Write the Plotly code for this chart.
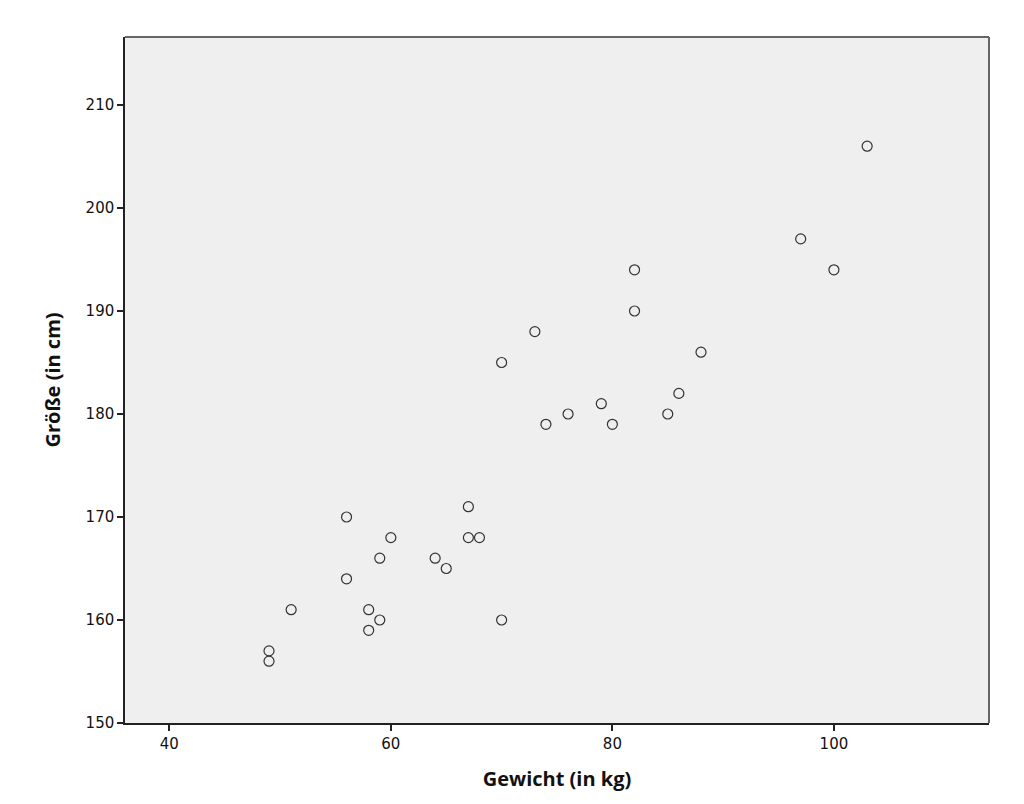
import plotly.graph_objects as go

gewicht = [49, 49, 51, 56, 56, 58, 58, 59, 59, 60, 64, 65, 67, 67, 68, 70, 70,
           73, 74, 76, 79, 80, 82, 82, 85, 86, 88, 97, 100, 103]
groesse = [157, 156, 161, 170, 164, 161, 159, 166, 160, 168, 166, 165, 171, 168, 168, 185, 160,
           188, 179, 180, 181, 179, 194, 190, 180, 182, 186, 197, 194, 206]
x_ticks = [40, 60, 80, 100]
y_ticks = [150, 160, 170, 180, 190, 200, 210]

fig = go.Figure()
fig.add_trace(go.Scatter(
    x=gewicht, y=groesse, mode="markers",
    marker=dict(symbol="circle-open", size=10, color="#333333", line=dict(width=1.2, color="#333333")),
    showlegend=False, hoverinfo="x+y",
))

axis_font = dict(family="DejaVu Sans, sans-serif", size=15, color="#111111")
title_font = dict(family="Open Sans, DejaVu Sans, sans-serif", size=20, color="#111111")

fig.update_layout(
    width=1024, height=804,
    margin=dict(l=125, r=35, t=37, b=81),
    paper_bgcolor="white",
    plot_bgcolor="#efefef",
    xaxis=dict(
        range=[36, 114], tickvals=x_ticks, ticks="outside", ticklen=6, tickwidth=1.5,
        tickcolor="#222222", showgrid=False, zeroline=False,
        showline=True, linecolor="#222222", linewidth=1.5, mirror=False,
        tickfont=axis_font,
        title=dict(text="<b>Gewicht (in kg)</b>", font=title_font, standoff=20),
    ),
    yaxis=dict(
        range=[150, 216.6], tickvals=y_ticks, ticks="outside", ticklen=6, tickwidth=1.5,
        tickcolor="#222222", showgrid=False, zeroline=False,
        showline=True, linecolor="#222222", linewidth=1.5, mirror=False,
        tickfont=axis_font,
        title=dict(text="<b>Größe (in cm)</b>", font=title_font, standoff=20),
    ),
    shapes=[
        dict(type="line", xref="paper", yref="paper", x0=0, x1=1, y0=1, y1=1,
             line=dict(color="#666666", width=2)),
        dict(type="line", xref="paper", yref="paper", x0=1, x1=1, y0=0, y1=1,
             line=dict(color="#666666", width=2)),
    ],
)

fig.write_html("out.html")
